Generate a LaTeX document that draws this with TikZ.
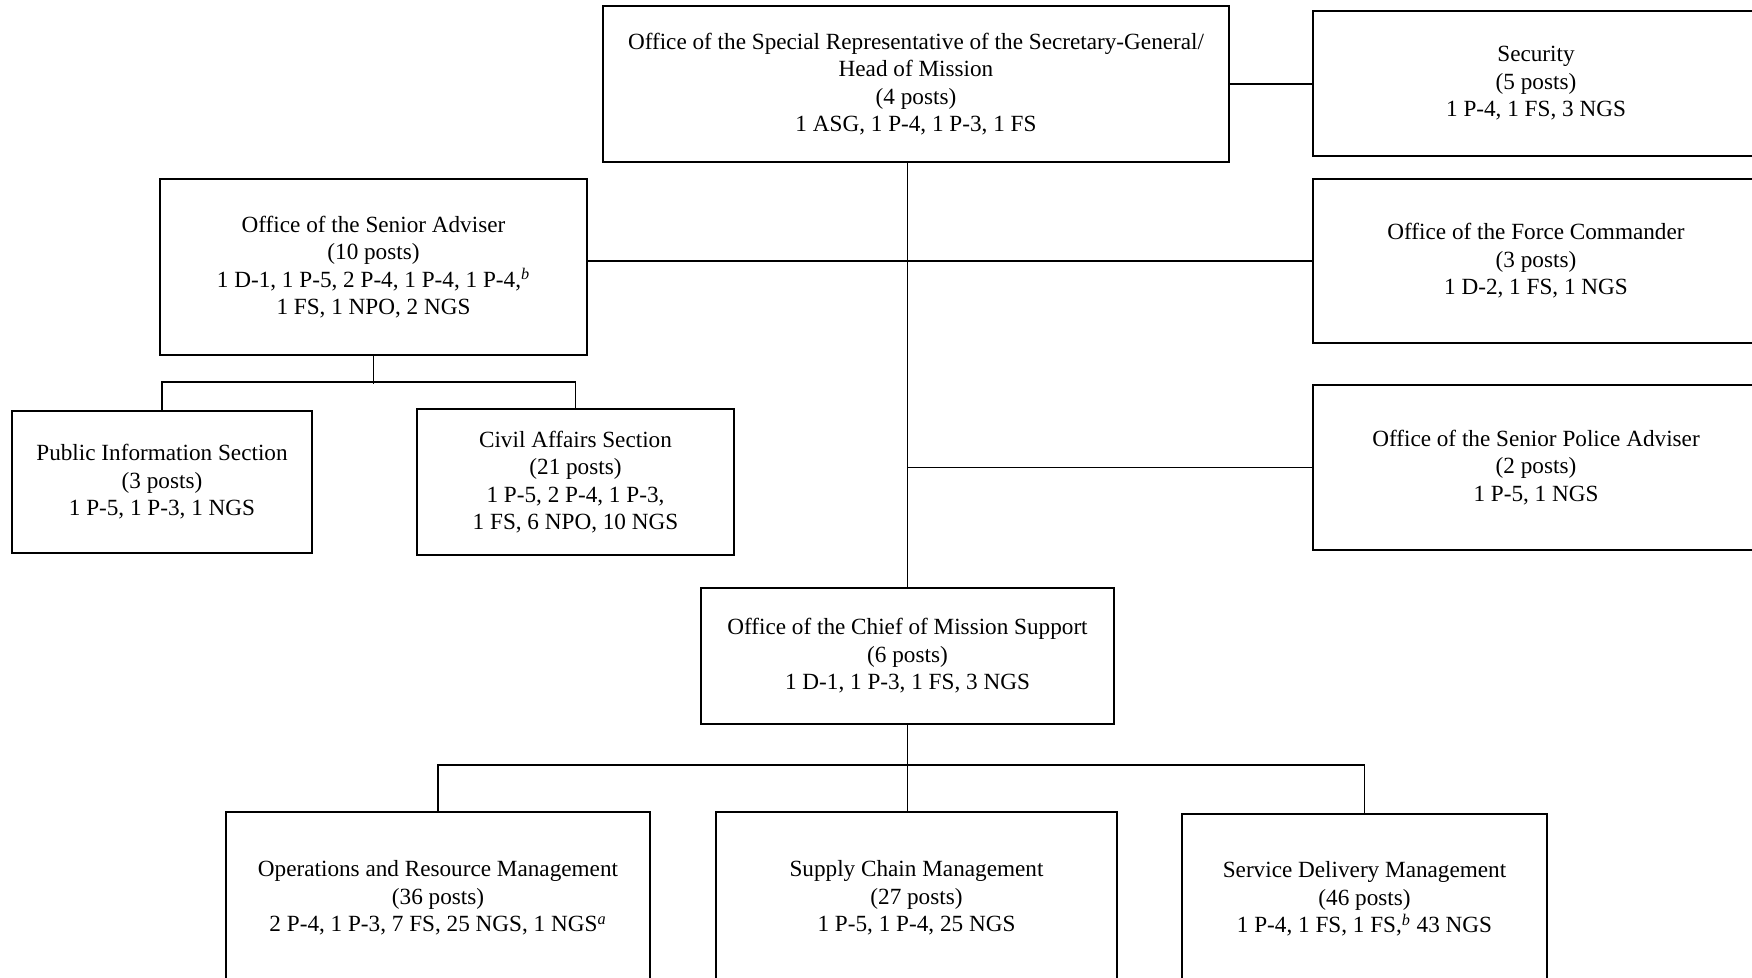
\documentclass[tikz,border=0pt]{standalone}
\usepackage{fontspec}
\setmainfont{Liberation Serif}
\usepackage{tikz}
\newcommand{\fn}[1]{\textsuperscript{\textit{#1}}}

\begin{document}
\begin{tikzpicture}[
    unit/.style={draw, line width=1pt, align=center, inner sep=2pt, font=\fontsize{13.2}{15.6}\selectfont},
    link/.style={line width=1pt}
]
    \useasboundingbox (0,0) rectangle (35.04,-19.54);
    \clip (0,0) rectangle (35.04,-19.54);

    % head of mission and its direct offices
    \node[unit, minimum width=12.52cm, minimum height=3.12cm] (srsg) at (18.32,-1.68) {Office of the Special Representative of the Secretary-General/\\Head of Mission\\(4 posts)\\1 ASG, 1 P-4, 1 P-3, 1 FS};
    \node[unit, minimum width=8.92cm, minimum height=2.9cm] (sec) at (30.72,-1.67) {Security\\(5 posts)\\1 P-4, 1 FS, 3 NGS};
    \node[unit, minimum width=8.92cm, minimum height=3.28cm] (fc) at (30.72,-5.22) {Office of the Force Commander\\(3 posts)\\1 D-2, 1 FS, 1 NGS};
    \node[unit, minimum width=8.92cm, minimum height=3.3cm] (pol) at (30.72,-9.35) {Office of the Senior Police Adviser\\(2 posts)\\1 P-5, 1 NGS};
    \node[unit, minimum width=8.54cm, minimum height=3.52cm] (sa) at (7.47,-5.34) {Office of the Senior Adviser\\(10 posts)\\1 D-1, 1 P-5, 2 P-4, 1 P-4, 1 P-4,\fn{b}\\1 FS, 1 NPO, 2 NGS};

    % sections under the senior adviser
    \node[unit, minimum width=6.0cm, minimum height=2.84cm] (pi) at (3.24,-9.64) {Public Information Section\\(3 posts)\\1 P-5, 1 P-3, 1 NGS};
    \node[unit, minimum width=6.34cm, minimum height=2.92cm] (ca) at (11.51,-9.64) {Civil Affairs Section\\(21 posts)\\1 P-5, 2 P-4, 1 P-3,\\1 FS, 6 NPO, 10 NGS};

    % mission support
    \node[unit, minimum width=8.26cm, minimum height=2.72cm] (cms) at (18.15,-13.12) {Office of the Chief of Mission Support\\(6 posts)\\1 D-1, 1 P-3, 1 FS, 3 NGS};
    \node[unit, minimum width=8.48cm, minimum height=3.44cm] (orm) at (8.76,-17.96) {Operations and Resource Management\\(36 posts)\\2 P-4, 1 P-3, 7 FS, 25 NGS, 1 NGS\fn{a}};
    \node[unit, minimum width=8.02cm, minimum height=3.44cm] (scm) at (18.33,-17.96) {Supply Chain Management\\(27 posts)\\1 P-5, 1 P-4, 25 NGS};
    \node[unit, minimum width=7.3cm, minimum height=3.4cm] (sdm) at (27.29,-17.98) {Service Delivery Management\\(46 posts)\\1 P-4, 1 FS, 1 FS,\fn{b} 43 NGS};

    \draw[link] (srsg.east) -- (srsg.east -| sec.west);
    \draw[link] (cms.north) -- (cms.north |- srsg.south);
    \draw[link] (fc.west) -- (fc.west -| sa.east);
    \draw[link] (pol.west) -- (pol.west -| cms.north);

    \draw[link] (sa.south) -- ++(0,-0.56);
    \draw[link] (pi.north) -- ++(0,0.56) -| (ca.north);

    \draw[link] (cms.south) -- (cms.south |- scm.north);
    \draw[link] (orm.north) -- ++(0,0.92) -| (sdm.north);
\end{tikzpicture}
\end{document}
